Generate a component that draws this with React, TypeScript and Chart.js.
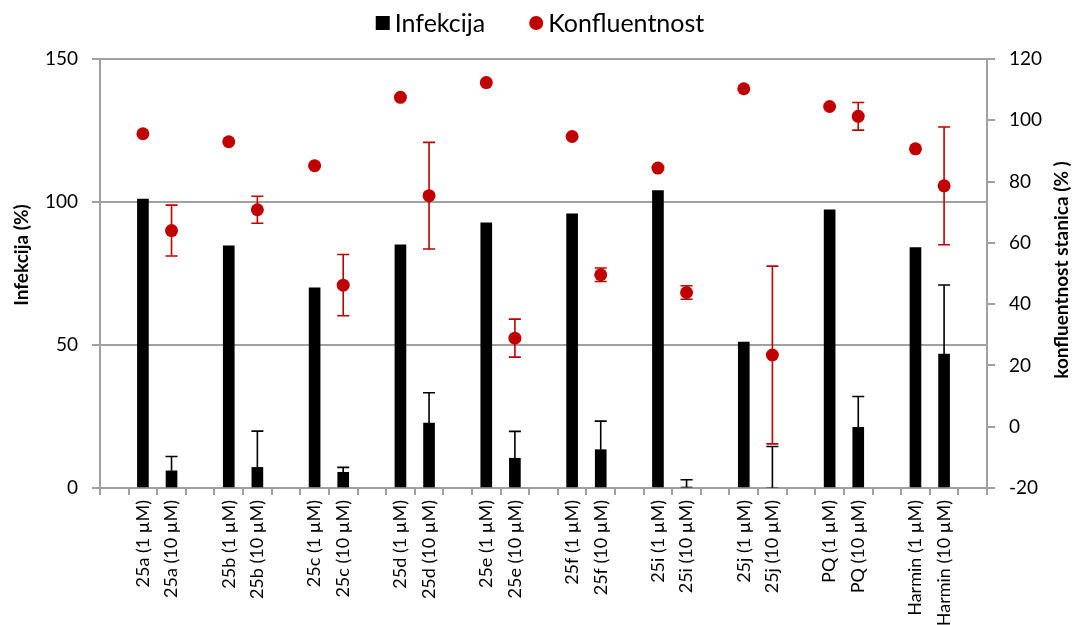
import React, { useEffect, useRef } from "react";
import { Chart, registerables } from "chart.js";

Chart.register(...registerables);

// ---- data ----
const compounds = ["25a", "25b", "25c", "25d", "25e", "25f", "25i", "25j", "PQ", "Harmin"];
const concentrations = ["1 µM", "10 µM"];

const infekcija1 = [101, 84.7, 70, 85, 92.7, 95.9, 104, 51, 97.3, 84.1];
const infekcija10 = [6, 7.2, 5.5, 22.7, 10.4, 13.4, 0.3, 0, 21.2, 46.8];
const infekcija10Err = [5, 12.7, 1.7, 10.6, 9.4, 10, 2.6, 14.5, 10.8, 24.2];

const konf1 = [95.6, 93, 85.2, 107.5, 112.3, 94.7, 84.4, 110.3, 104.5, 90.7];
const konf10 = [64, 70.8, 46.2, 75.4, 28.9, 49.6, 43.8, 23.4, 101.3, 78.6];
const konf10Err = [8.3, 4.4, 10, 17.4, 6.2, 2.2, 2.2, 29, 4.5, 19.2];

const leftTicks = { min: 0, max: 150, step: 50 };
const rightTicks = { min: -20, max: 120, step: 20 };

const seriesNames = ["Infekcija", "Konfluentnost"];
const leftTitle = "Infekcija (%)";
const rightTitle = "konfluentnost stanica (% )";

// ---- build category table ----
const labels: string[] = [""];
const barData: (number | null)[] = [null];
const barErr: (number | null)[] = [null];
const konfData: (number | null)[] = [null];
const konfErr: (number | null)[] = [null];
compounds.forEach((c, i) => {
  labels.push(`${c} (${concentrations[0]})`, `${c} (${concentrations[1]})`, "");
  barData.push(infekcija1[i], infekcija10[i], null);
  barErr.push(null, infekcija10Err[i], null);
  konfData.push(konf1[i], konf10[i], null);
  konfErr.push(null, konf10Err[i], null);
});

const FONT = "Lato, 'Open Sans', sans-serif";
const RED = "#c00000";
const GRID = "#a0a0a0";

const errorBarPlugin = {
  id: "errorBars",
  afterDatasetDraw(chart: any, args: any) {
    const ds = chart.data.datasets[args.index];
    const errs = ds.errors as (number | null)[] | undefined;
    if (!errs) return;
    const meta = args.meta;
    const yScale = chart.scales[meta.yAxisID];
    const ctx = chart.ctx;
    ctx.save();
    ctx.strokeStyle = ds.errorColor;
    ctx.lineWidth = 1.6;
    const cap = 6;
    meta.data.forEach((el: any, i: number) => {
      const v = ds.data[i];
      const e = errs[i];
      if (v == null || e == null || e === 0) return;
      const x = el.x;
      const yTop = yScale.getPixelForValue(v + e);
      const yBot = yScale.getPixelForValue(ds.errorBoth ? v - e : v);
      ctx.beginPath();
      ctx.moveTo(x, yTop);
      ctx.lineTo(x, yBot);
      ctx.moveTo(x - cap, yTop);
      ctx.lineTo(x + cap, yTop);
      if (ds.errorBoth) {
        ctx.moveTo(x - cap, yBot);
        ctx.lineTo(x + cap, yBot);
      }
      ctx.stroke();
    });
    ctx.restore();
  },
};

const decorPlugin = {
  id: "decor",
  afterDraw(chart: any) {
    const ctx = chart.ctx;
    // axis titles (both read bottom-to-top)
    const drawTitle = (text: string, x: number, y: number) => {
      ctx.save();
      ctx.font = `bold 19px ${FONT}`;
      ctx.fillStyle = "#000";
      ctx.textAlign = "center";
      ctx.textBaseline = "middle";
      ctx.translate(x, y);
      ctx.rotate(-Math.PI / 2);
      ctx.fillText(text, 0, 0);
      ctx.restore();
    };
    drawTitle(leftTitle, 22, 255);
    drawTitle(rightTitle, 1062, 270);

    // legend
    ctx.save();
    ctx.font = `25px ${FONT}`;
    ctx.textBaseline = "middle";
    ctx.textAlign = "left";
    const cy = 23;
    const w1 = ctx.measureText(seriesNames[0]).width;
    const w2 = ctx.measureText(seriesNames[1]).width;
    const box = 14;
    const gapText = 5;
    const gapItems = 44;
    const total = box + gapText + w1 + gapItems + box + gapText + w2;
    let x = 540 - total / 2;
    ctx.fillStyle = "#000";
    ctx.fillRect(x, cy - box / 2, box, box);
    x += box + gapText;
    ctx.fillText(seriesNames[0], x, cy + 1);
    x += w1 + gapItems;
    ctx.fillStyle = RED;
    ctx.beginPath();
    ctx.arc(x + box / 2, cy, box / 2, 0, Math.PI * 2);
    ctx.fill();
    x += box + gapText;
    ctx.fillStyle = "#000";
    ctx.fillText(seriesNames[1], x, cy + 1);
    ctx.restore();
  },
};

export default function App() {
  const ref = useRef<HTMLCanvasElement | null>(null);
  useEffect(() => {
    let chart: Chart | null = null;
    let cancelled = false;
    const make = () => {
      if (cancelled || !ref.current) return;
      chart = new Chart(ref.current, {
        type: "bar",
        data: {
          labels,
          datasets: [
            {
              type: "line",
              label: seriesNames[1],
              data: konfData,
              yAxisID: "y1",
              showLine: false,
              pointRadius: 6.5,
              pointHoverRadius: 6.5,
              pointBackgroundColor: RED,
              pointBorderWidth: 0,
              borderColor: RED,
              order: 0,
              errors: konfErr,
              errorColor: RED,
              errorBoth: true,
            } as any,
            {
              type: "bar",
              label: seriesNames[0],
              data: barData,
              yAxisID: "y",
              backgroundColor: "#000",
              barThickness: 11,
              order: 1,
              errors: barErr,
              errorColor: "#000",
              errorBoth: false,
            } as any,
          ],
        },
        options: {
          responsive: false,
          animation: false,
          layout: { padding: { top: 59, left: 0, right: 0, bottom: 0 } },
          plugins: {
            legend: { display: false },
            tooltip: { enabled: false },
          },
          scales: {
            x: {
              offset: true,
              afterFit: (s: any) => {
                s.height = 137;
              },
              grid: {
                offset: true,
                drawOnChartArea: false,
                drawTicks: true,
                tickLength: 7,
                color: GRID,
                tickColor: GRID,
                lineWidth: 2,
              },
              border: { display: true, color: GRID, width: 2 },
              ticks: {
                autoSkip: false,
                minRotation: 90,
                maxRotation: 90,
                padding: 5,
                color: "#000",
                font: { family: FONT, size: 18 },
              },
            },
            y: {
              position: "left",
              min: leftTicks.min,
              max: leftTicks.max,
              afterFit: (s: any) => {
                s.width = 100;
              },
              grid: {
                color: GRID,
                tickColor: GRID,
                lineWidth: 2,
                tickLength: 8,
              },
              border: { display: true, color: GRID, width: 2 },
              ticks: {
                stepSize: leftTicks.step,
                padding: 14,
                color: "#000",
                font: { family: FONT, size: 19 },
              },
            },
            y1: {
              position: "right",
              min: rightTicks.min,
              max: rightTicks.max,
              afterFit: (s: any) => {
                s.width = 88;
              },
              grid: {
                drawOnChartArea: false,
                color: GRID,
                tickColor: GRID,
                lineWidth: 2,
                tickLength: 8,
              },
              border: { display: true, color: GRID, width: 2 },
              ticks: {
                stepSize: rightTicks.step,
                padding: 14,
                color: "#000",
                font: { family: FONT, size: 19 },
              },
            },
          },
        } as any,
        plugins: [errorBarPlugin, decorPlugin],
      });
    };
    const fonts: any = (document as any).fonts;
    if (fonts && fonts.load) {
      Promise.all([
        fonts.load(`16px Lato`),
        fonts.load(`bold 16px Lato`),
      ]).then(make, make);
    } else {
      make();
    }
    return () => {
      cancelled = true;
      if (chart) chart.destroy();
    };
  }, []);
  return (
    <div style={{ position: "fixed", left: 0, top: 0, width: 1075, height: 625, background: "#fff" }}>
      <canvas ref={ref} width={1075} height={625} style={{ display: "block" }} />
    </div>
  );
}
